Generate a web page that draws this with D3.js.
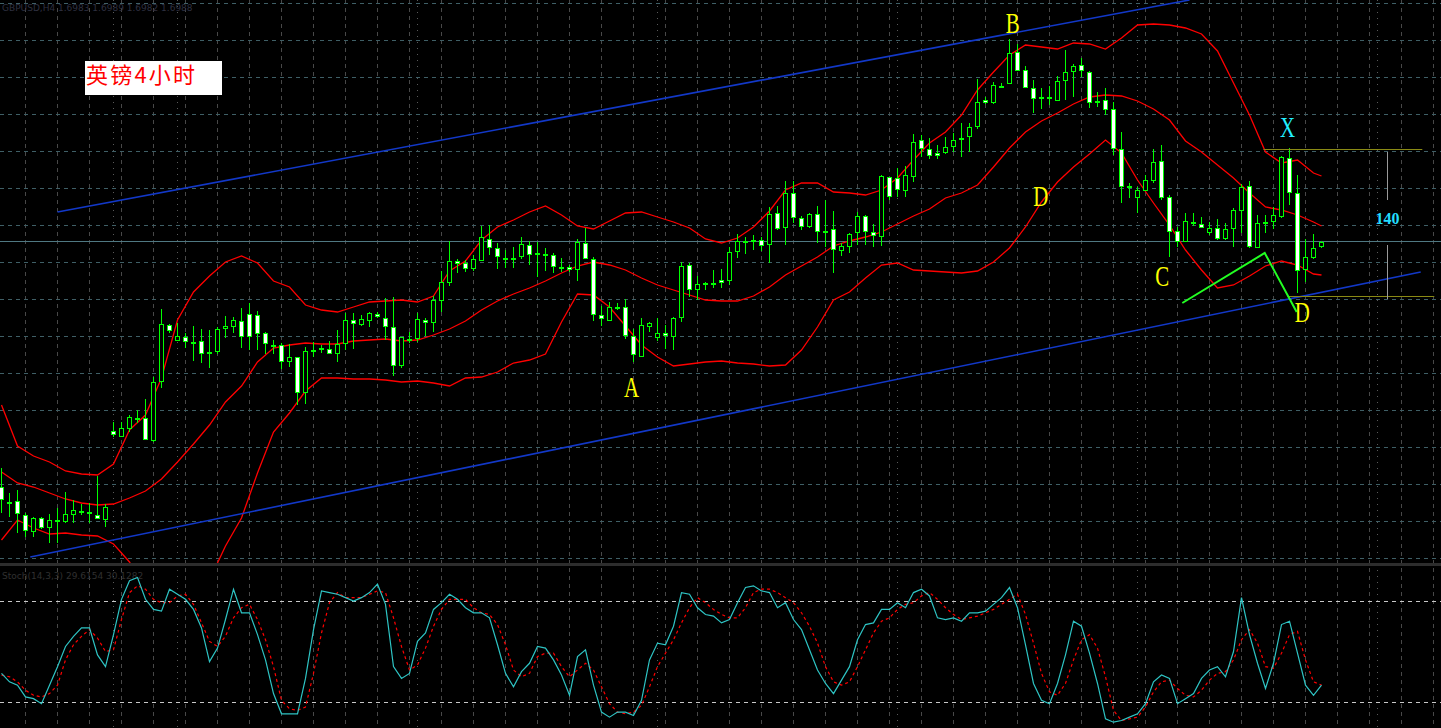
<!DOCTYPE html>
<html><head><meta charset="utf-8">
<script src="https://cdn.jsdelivr.net/npm/d3@7"></script>
<style>html,body{margin:0;padding:0;background:#000;overflow:hidden}</style>
</head><body><svg id="c" width="1441" height="728"></svg>
<script>
// ---------- DATA (GBPUSD H4) ----------
const opens = [1.6743,1.6728,1.6729,1.6715,1.6698,1.6712,1.6702,1.6710,1.6708,1.6715,
1.6719,1.6718,1.6715,1.6710,1.6799,1.6793,1.6801,1.6812,1.6812,1.6789,
1.6848,1.6905,1.6889,1.6893,1.6888,1.6889,1.6876,1.6878,1.6901,1.6903,
1.6909,1.6916,1.6915,1.6897,1.6885,1.6885,1.6868,1.6873,1.6837,1.6880,
1.6882,1.6881,1.6876,1.6886,1.6910,1.6905,1.6909,1.6916,1.6912,1.6903,
1.6864,1.6891,1.6891,1.6910,1.6907,1.6929,1.6947,1.6969,1.6967,1.6961,
1.6969,1.6991,1.6982,1.6972,1.6972,1.6973,1.6985,1.6977,1.6976,1.6975,
1.6963,1.6963,1.6960,1.6987,1.6971,1.6915,1.6909,1.6923,1.6923,1.6894,
1.6873,1.6903,1.6892,1.6897,1.6893,1.6912,1.6965,1.6940,1.6947,1.6947,
1.6950,1.6949,1.6978,1.6989,1.6990,1.6990,1.6985,1.7017,1.7002,1.7037,
1.7012,1.7003,1.7016,1.6999,1.7001,1.6979,1.6983,1.6997,1.7014,1.6998,
1.6993,1.7053,1.7052,1.7039,1.7053,1.7090,1.7081,1.7077,1.7077,1.7083,
1.7092,1.7093,1.7103,1.7130,1.7127,1.7144,1.7146,1.7178,1.7160,1.7142,
1.7131,1.7133,1.7129,1.7149,1.7158,1.7165,1.7158,1.7129,1.7130,1.7121,
1.7081,1.7044,1.7032,1.7039,1.7049,1.7069,1.7033,1.6999,1.6988,1.7008,
1.7006,1.6997,1.7002,1.6991,1.7001,1.7019,1.7044,1.6982,1.7008,1.7008,
1.7013,1.7072,1.7037,1.6960,1.6972,1.6983];
const highs = [1.6762,1.6737,1.6740,1.6717,1.6713,1.6713,1.6716,1.6722,1.6738,1.6730,
1.6726,1.6727,1.6754,1.6726,1.6808,1.6808,1.6815,1.6820,1.6831,1.6853,
1.6921,1.6906,1.6907,1.6897,1.6904,1.6901,1.6900,1.6903,1.6914,1.6913,
1.6922,1.6927,1.6919,1.6898,1.6890,1.6887,1.6886,1.6873,1.6883,1.6888,
1.6885,1.6889,1.6900,1.6917,1.6917,1.6915,1.6918,1.6918,1.6932,1.6933,
1.6893,1.6898,1.6917,1.6912,1.6934,1.6959,1.6989,1.6971,1.6970,1.6975,
1.7004,1.7005,1.6987,1.6980,1.6983,1.6993,1.6989,1.6988,1.6982,1.6977,
1.6972,1.6965,1.6991,1.7002,1.6973,1.6924,1.6928,1.6927,1.6931,1.6901,
1.6912,1.6908,1.6912,1.6905,1.6913,1.6968,1.6967,1.6954,1.6948,1.6960,
1.6961,1.6983,1.6996,1.6993,1.6995,1.6993,1.7023,1.7024,1.7049,1.7049,
1.7014,1.7017,1.7024,1.7030,1.7019,1.6987,1.6997,1.7018,1.7015,1.7006,
1.7055,1.7053,1.7062,1.7064,1.7096,1.7095,1.7092,1.7085,1.7093,1.7097,
1.7107,1.7107,1.7151,1.7133,1.7148,1.7147,1.7191,1.7186,1.7164,1.7150,
1.7142,1.7144,1.7154,1.7180,1.7166,1.7172,1.7159,1.7138,1.7142,1.7128,
1.7098,1.7047,1.7043,1.7055,1.7081,1.7085,1.7035,1.7003,1.7017,1.7017,
1.7013,1.7008,1.7011,1.7007,1.7022,1.7046,1.7049,1.7015,1.7015,1.7023,
1.7074,1.7082,1.7055,1.6991,1.6996,1.6989];
const lows = [1.6717,1.6713,1.6697,1.6693,1.6693,1.6701,1.6687,1.6687,1.6707,1.6707,
1.6715,1.6707,1.6711,1.6703,1.6793,1.6793,1.6798,1.6807,1.6790,1.6788,
1.6842,1.6897,1.6889,1.6882,1.6869,1.6867,1.6862,1.6876,1.6892,1.6897,
1.6882,1.6880,1.6880,1.6876,1.6876,1.6861,1.6863,1.6825,1.6826,1.6873,
1.6877,1.6876,1.6868,1.6880,1.6881,1.6904,1.6903,1.6912,1.6890,1.6854,
1.6862,1.6887,1.6888,1.6894,1.6898,1.6918,1.6944,1.6957,1.6958,1.6959,
1.6969,1.6975,1.6961,1.6962,1.6962,1.6971,1.6965,1.6953,1.6959,1.6957,
1.6958,1.6958,1.6949,1.6971,1.6909,1.6904,1.6909,1.6920,1.6891,1.6868,
1.6873,1.6898,1.6889,1.6881,1.6880,1.6908,1.6933,1.6930,1.6940,1.6942,
1.6942,1.6945,1.6972,1.6976,1.6980,1.6979,1.6967,1.7000,1.6985,1.7007,
1.7000,1.7002,1.6987,1.6983,1.6957,1.6974,1.6977,1.6985,1.6985,1.6983,
1.6984,1.7030,1.7033,1.7033,1.7048,1.7073,1.7071,1.7071,1.7076,1.7078,
1.7073,1.7078,1.7101,1.7126,1.7126,1.7142,1.7146,1.7159,1.7142,1.7117,
1.7121,1.7125,1.7129,1.7130,1.7133,1.7153,1.7122,1.7123,1.7115,1.7075,
1.7027,1.7032,1.7017,1.7039,1.7047,1.7030,1.6973,1.6983,1.6988,1.7004,
1.7002,1.6995,1.6990,1.6990,1.6983,1.6997,1.6982,1.6982,1.6997,1.7001,
1.7012,1.7025,1.6937,1.6948,1.6971,1.6982];
const closes = [1.6730,1.6728,1.6716,1.6699,1.6712,1.6702,1.6710,1.6710,1.6716,1.6720,
1.6719,1.6716,1.6711,1.6723,1.6795,1.6802,1.6813,1.6812,1.6790,1.6848,
1.6906,1.6899,1.6894,1.6888,1.6888,1.6876,1.6878,1.6901,1.6904,1.6910,
1.6893,1.6893,1.6896,1.6886,1.6885,1.6868,1.6873,1.6837,1.6879,1.6878,
1.6882,1.6876,1.6886,1.6910,1.6906,1.6911,1.6917,1.6913,1.6903,1.6864,
1.6893,1.6891,1.6911,1.6907,1.6930,1.6948,1.6969,1.6966,1.6961,1.6971,
1.6993,1.6982,1.6973,1.6972,1.6972,1.6986,1.6975,1.6975,1.6976,1.6963,
1.6963,1.6960,1.6988,1.6971,1.6915,1.6911,1.6923,1.6923,1.6894,1.6875,
1.6905,1.6907,1.6897,1.6894,1.6912,1.6964,1.6940,1.6946,1.6947,1.6947,
1.6947,1.6978,1.6989,1.6989,1.6990,1.6984,1.7016,1.7001,1.7037,1.7012,
1.7003,1.7016,1.6998,1.6999,1.6980,1.6984,1.6996,1.7014,1.6998,1.6994,
1.7054,1.7033,1.7040,1.7055,1.7088,1.7081,1.7074,1.7074,1.7083,1.7090,
1.7092,1.7103,1.7128,1.7127,1.7145,1.7144,1.7177,1.7159,1.7142,1.7131,
1.7133,1.7131,1.7149,1.7158,1.7164,1.7159,1.7127,1.7127,1.7120,1.7081,
1.7043,1.7042,1.7040,1.7050,1.7068,1.7032,1.6998,1.6988,1.7009,1.7006,
1.7002,1.7002,1.6991,1.7001,1.7020,1.7043,1.6983,1.7007,1.7008,1.7015,
1.7073,1.7037,1.6959,1.6973,1.6982,1.6988];

// Bollinger bands, read every second bar (plus last bar)
const bbIndex = d3.range(0, 165, 2).concat([165]);
const bbUpper = [1.6825,1.6784,1.6774,1.6768,1.6759,1.6756,1.6755,1.6766,1.6800,1.6815,
1.6852,1.6910,1.6938,1.6954,1.6968,1.6974,1.6967,1.6949,1.6943,1.6925,
1.6920,1.6918,1.6923,1.6928,1.6929,1.6930,1.6928,1.6934,1.6959,1.6969,
1.6990,1.7003,1.7010,1.7018,1.7024,1.7015,1.7004,1.7001,1.7009,1.7017,
1.7018,1.7013,1.7008,1.7002,1.6991,1.6987,1.6992,1.7003,1.7019,1.7040,
1.7047,1.7047,1.7038,1.7037,1.7035,1.7040,1.7052,1.7070,1.7087,1.7098,
1.7115,1.7140,1.7158,1.7175,1.7185,1.7183,1.7181,1.7187,1.7186,1.7181,
1.7192,1.7205,1.7206,1.7205,1.7202,1.7196,1.7179,1.7147,1.7115,1.7078,
1.7067,1.7070,1.7057,1.7054];
const bbMiddle = [1.6758,1.6747,1.6743,1.6737,1.6731,1.6727,1.6725,1.6726,1.6732,1.6739,
1.6751,1.6768,1.6786,1.6805,1.6828,1.6844,1.6868,1.6882,1.6885,1.6887,
1.6886,1.6886,1.6889,1.6890,1.6891,1.6889,1.6890,1.6895,1.6901,1.6909,
1.6920,1.6929,1.6936,1.6942,1.6949,1.6957,1.6964,1.6968,1.6965,1.6960,
1.6952,1.6945,1.6940,1.6935,1.6930,1.6929,1.6929,1.6934,1.6943,1.6955,
1.6964,1.6973,1.6984,1.6989,1.6993,1.6998,1.7006,1.7014,1.7021,1.7032,
1.7037,1.7045,1.7063,1.7082,1.7098,1.7109,1.7117,1.7126,1.7133,1.7135,
1.7134,1.7129,1.7121,1.7110,1.7089,1.7078,1.7065,1.7052,1.7037,1.7023,
1.7020,1.7015,1.7008,1.7004];
const bbLower = [1.6690,1.6710,1.6702,1.6696,1.6697,1.6695,1.6694,1.6686,1.6668,1.6640,
1.6625,1.6620,1.6630,1.6650,1.6684,1.6712,1.6757,1.6798,1.6817,1.6839,
1.6852,1.6852,1.6851,1.6851,1.6850,1.6848,1.6849,1.6847,1.6844,1.6852,
1.6853,1.6858,1.6867,1.6870,1.6876,1.6908,1.6936,1.6935,1.6923,1.6904,
1.6885,1.6873,1.6864,1.6866,1.6868,1.6869,1.6867,1.6866,1.6864,1.6865,
1.6880,1.6903,1.6930,1.6938,1.6952,1.6965,1.6967,1.6960,1.6959,1.6958,
1.6957,1.6959,1.6968,1.6982,1.7003,1.7028,1.7048,1.7063,1.7076,1.7090,
1.7077,1.7050,1.7027,1.7005,1.6980,1.6960,1.6942,1.6945,1.6954,1.6964,
1.6969,1.6965,1.6956,1.6955];

// Stochastic %K / %D
const stochK = [37,32,30,23,22,19,30,41,53,59, 64,64,48,41,60,81,92,94,81,75,
74,87,84,81,75,64,44,52,69,87, 73,73,60,45,25,13,13,13,34,63,
86,85,84,82,80,82,85,90,78,41, 34,37,56,61,75,79,84,81,76,73,
73,70,54,37,29,38,43,53,52,45, 36,24,47,51,30,14,11,14,14,12,
21,45,55,54,65,85,84,76,72,71, 67,69,79,88,89,86,85,76,79,69,
63,51,39,31,25,33,41,57,66,67, 75,75,79,76,85,87,83,70,69,70,
68,73,73,74,78,82,88,76,54,31, 21,19,31,48,68,65,49,31,10,8,
9,11,13,19,32,36,34,19,22,25, 34,39,41,35,50,82,60,43,28,43,
66,68,49,30,24,30];
const stochD = [36,35,32,27,24,23,25,30,45,54, 59,63,58,50,51,69,85,89,87,81,
79,79,83,84,78,67,56,53,59,70, 76,78,69,57,41,21,16,15,17,37,
61,79,85,82,82,82,84,86,85,70, 53,39,42,52,65,75,81,81,81,76,
73,72,66,54,39,35,37,47,49,49, 41,35,39,43,39,29,19,14,13,14,
18,29,41,49,57,67,76,82,79,75, 72,70,70,76,85,87,87,85,82,79,
73,65,55,41,32,30,32,41,51,61, 68,70,75,78,79,83,85,81,76,72,
69,70,71,73,75,78,81,84,72,55, 37,26,24,31,45,57,60,52,35,15,
9,10,11,17,26,32,33,28,24,23, 27,33,37,38,45,57,63,55,41,40,
49,60,62,45,32,30];
const stochLevels = [80, 20];

// Drawn objects: [bar index, price]
const channelUpper = [[7, 1.7018], [148.5, 1.7230]];
const channelLower = [[3.6, 1.6673], [177.4, 1.6958]];
const zigzag = [[147.6, 1.6927], [157.9, 1.6977], [161.9, 1.6918]];
const levelX = {from: 157.75, to: 177.6, price: 1.7081};
const levelD = {from: 160.75, to: 179.1, price: 1.6934};
const measure = {at: 173.25, top: [1.7078, 1.7030], bottom: [1.6985, 1.6931], label: "140", labelPrice: 1.7006};
const waveLabels = [
  {t: "B", i: 126.4, p: 1.7197, c: "#ffff00"},
  {t: "A", i: 78.75, p: 1.6833, c: "#ffff00"},
  {t: "D", i: 129.9, p: 1.7024, c: "#ffff00"},
  {t: "C", i: 145.1, p: 1.6944, c: "#ffff00"},
  {t: "X", i: 160.75, p: 1.7093, c: "#22eeff"},
  {t: "D", i: 162.6, p: 1.6908, c: "#ffff00"}
];
const titleText = "英镑4小时";
const headerText = "GBPUSD,H4  1.6983 1.6989 1.6982 1.6988";
const stochText = "Stoch(14,3,3) 29.6154 30.1282";
const separatorBars = [14, 22, 52, 82, 112, 142, 172];

// ---------- LAYOUT ----------
const W = 1441, H = 728;
const mainBottom = 563, subTop = 566;
const N = closes.length;
const svg = d3.select("#c");
svg.append("rect").attr("width", W).attr("height", H).attr("fill", "#000");

const x = d3.scaleLinear().domain([0, 165]).range([1.5, 1321.5]);
const y = d3.scaleLinear().domain([1.6667, 1.7230]).range([mainBottom, 0]);
const ys = d3.scaleLinear().domain([20, 80]).range([702, 601]);

const defs = svg.append("defs");
defs.append("clipPath").attr("id", "clipMain").append("rect").attr("x", 0).attr("y", 0).attr("width", W).attr("height", mainBottom);
defs.append("clipPath").attr("id", "clipSub").append("rect").attr("x", 0).attr("y", subTop).attr("width", W).attr("height", H - subTop);

const crisp = v => Math.round(v - 0.5) + 0.5;

// vertical grid through both panels
const gridBars = d3.range(3, 185, 4);
svg.append("g").selectAll("line").data(gridBars).join("line")
  .attr("x1", d => crisp(x(d))).attr("x2", d => crisp(x(d)))
  .attr("y1", 0).attr("y2", H)
  .attr("stroke", "#484848").attr("stroke-dasharray", "4,4").attr("stroke-width", 1);

// period separators (dotted)
svg.append("g").selectAll("line").data(separatorBars).join("line")
  .attr("x1", d => crisp(x(d))).attr("x2", d => crisp(x(d)))
  .attr("y1", 0).attr("y2", H)
  .attr("stroke", "#5a5a5a").attr("stroke-dasharray", "1,5").attr("stroke-width", 1);

// horizontal grid in main panel
const gridPrices = d3.range(0, 16).map(k => 1.7227 - 0.0037 * k);
svg.append("g").selectAll("line").data(gridPrices).join("line")
  .attr("x1", 0).attr("x2", W)
  .attr("y1", d => crisp(y(d))).attr("y2", d => crisp(y(d)))
  .attr("stroke", "#3f5f66").attr("stroke-dasharray", "4,4").attr("stroke-width", 1);

// panel separator
svg.append("rect").attr("x", 0).attr("y", mainBottom).attr("width", W).attr("height", 3)
  .attr("fill", "#2d2d2d");

const gMain = svg.append("g").attr("clip-path", "url(#clipMain)");

// bid line at last close
gMain.append("line").attr("x1", 0).attr("x2", W)
  .attr("y1", crisp(y(closes[N - 1]))).attr("y2", crisp(y(closes[N - 1])))
  .attr("stroke", "#4f7882").attr("stroke-width", 1);

// Bollinger bands
const bbLine = arr => d3.line().x((d, k) => x(bbIndex[k])).y(d => y(d))(arr);
[bbUpper, bbMiddle, bbLower].forEach(arr => {
  gMain.append("path").attr("d", bbLine(arr)).attr("fill", "none")
    .attr("stroke", "#ff0000").attr("stroke-width", 1.3);
});

// channel lines
const ptLine = d3.line().x(d => x(d[0])).y(d => y(d[1]));
[channelUpper, channelLower].forEach(pts => {
  gMain.append("path").attr("d", ptLine(pts)).attr("fill", "none")
    .attr("stroke", "#1238c8").attr("stroke-width", 1.6);
});

// candles
const bars = d3.range(N).map(i => ({i, o: opens[i], h: highs[i], l: lows[i], c: closes[i]}));
gMain.append("g").selectAll("line").data(bars).join("line")
  .attr("x1", d => x(d.i)).attr("x2", d => x(d.i))
  .attr("y1", d => Math.round(y(d.h))).attr("y2", d => Math.round(y(d.l)))
  .attr("stroke", "#00ff00").attr("stroke-width", 1);
gMain.append("g").selectAll("rect").data(bars).join("rect")
  .attr("x", d => x(d.i) - 2).attr("width", 4)
  .attr("y", d => Math.round(y(Math.max(d.o, d.c))) + 0.5)
  .attr("height", d => Math.max(1, Math.round(Math.abs(y(d.o) - y(d.c))) - 1))
  .attr("fill", d => d.c < d.o ? "#ffffff" : "#000000")
  .attr("stroke", "#00ff00").attr("stroke-width", 1);

// horizontal olive levels
[levelX, levelD].forEach(l => {
  gMain.append("line").attr("x1", x(l.from)).attr("x2", x(l.to))
    .attr("y1", crisp(y(l.price))).attr("y2", crisp(y(l.price)))
    .attr("stroke", "#8a8a14").attr("stroke-width", 1.2);
});
// measurement lines
[measure.top, measure.bottom].forEach(seg => {
  gMain.append("line").attr("x1", crisp(x(measure.at))).attr("x2", crisp(x(measure.at)))
    .attr("y1", y(seg[0])).attr("y2", y(seg[1]))
    .attr("stroke", "#9a9a9a").attr("stroke-width", 1);
});
gMain.append("text").attr("x", x(measure.at)).attr("y", y(measure.labelPrice))
  .attr("text-anchor", "middle").attr("fill", "#22ddff")
  .attr("font-family", "Liberation Serif, serif").attr("font-size", 16).attr("font-weight", "bold")
  .text(measure.label);

// green zigzag
gMain.append("path").attr("d", ptLine(zigzag)).attr("fill", "none")
  .attr("stroke", "#22ff22").attr("stroke-width", 2);

// wave labels
waveLabels.forEach(l => {
  gMain.append("text")
    .attr("transform", `translate(${x(l.i)},${y(l.p)}) scale(0.72,1)`)
    .attr("text-anchor", "middle").attr("fill", l.c)
    .attr("font-family", "Liberation Serif, serif").attr("font-size", 29)
    .text(l.t);
});

// title box
svg.append("rect").attr("x", 85).attr("y", 61).attr("width", 137).attr("height", 34).attr("fill", "#ffffff");
svg.append("text").attr("x", 86).attr("y", 83).attr("fill", "#ff0000")
  .attr("font-family", "Noto Sans CJK SC, sans-serif").attr("font-size", 22).attr("textLength", 109)
  .text(titleText);

// header texts (dim)
svg.append("text").attr("x", 2).attr("y", 11).attr("fill", "#2f3040")
  .attr("font-family", "DejaVu Sans, sans-serif").attr("font-size", 9).text(headerText);

// ---------- STOCHASTIC PANEL ----------
const gSub = svg.append("g").attr("clip-path", "url(#clipSub)");
gSub.append("text").attr("x", 2).attr("y", 579).attr("fill", "#303030")
  .attr("font-family", "DejaVu Sans, sans-serif").attr("font-size", 9).text(stochText);
gSub.selectAll("line.lvl").data(stochLevels).join("line").attr("class", "lvl")
  .attr("x1", 0).attr("x2", W)
  .attr("y1", d => crisp(ys(d))).attr("y2", d => crisp(ys(d)))
  .attr("stroke", "#c8c8c8").attr("stroke-dasharray", "4,4").attr("stroke-width", 1);
const sLine = d3.line().x((d, i) => x(i)).y(d => ys(d));
gSub.append("path").attr("d", sLine(stochD)).attr("fill", "none")
  .attr("stroke", "#ff0000").attr("stroke-width", 1.2).attr("stroke-dasharray", "3,3");
gSub.append("path").attr("d", sLine(stochK)).attr("fill", "none")
  .attr("stroke", "#2ec4c4").attr("stroke-width", 1.2);
</script>
</body></html>
